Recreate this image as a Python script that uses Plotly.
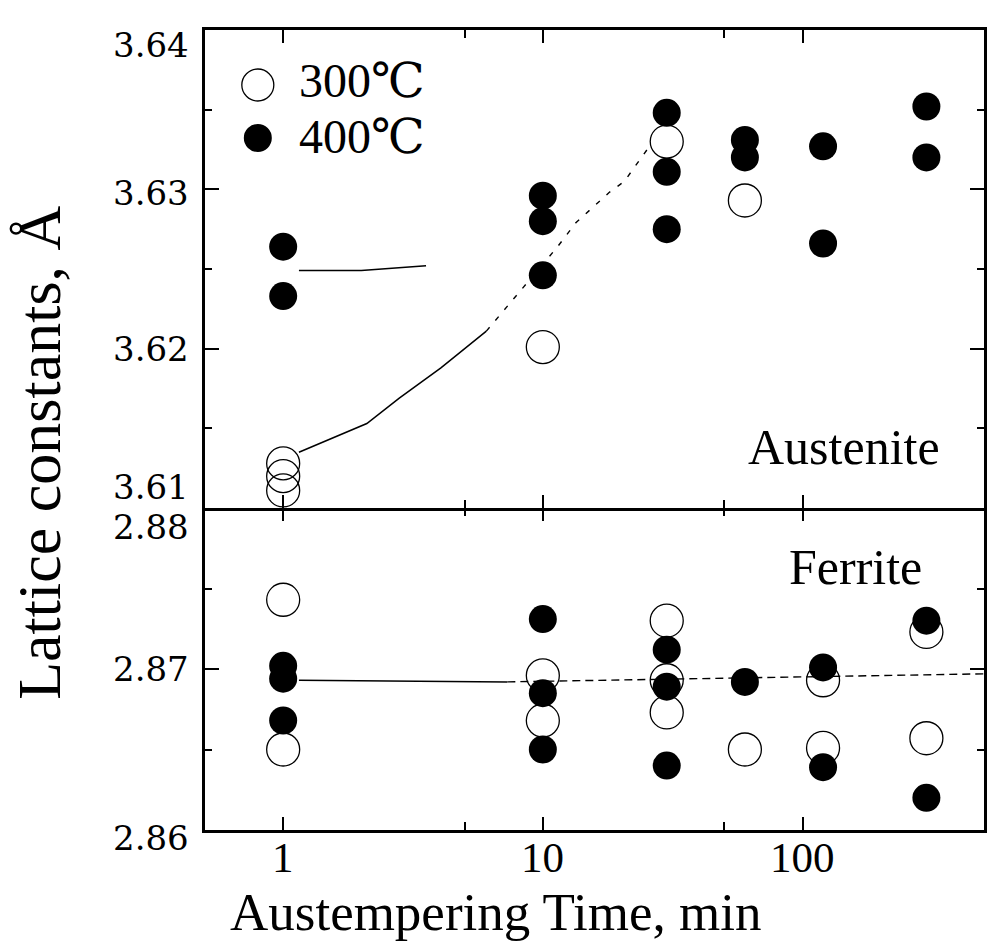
import math
import plotly.graph_objects as go

# ---- Austenite (upper panel) ----
aus_time_400 = [1, 1, 10, 10, 10, 30, 30, 30, 60, 60, 120, 120, 300, 300]
aus_a_400 = [3.6264, 3.6233, 3.6296, 3.6280, 3.6246, 3.6348, 3.6311, 3.6275,
             3.6331, 3.6320, 3.6327, 3.6266, 3.6352, 3.6320]
aus_time_300 = [1, 1, 1, 10, 30, 60]
aus_a_300 = [3.6128, 3.6120, 3.6111, 3.6201, 3.6330, 3.6293]

# trend curves drawn through the austenite data
aus_fit300_time_a = [1.15, 2.1, 2.8, 4.05, 6.06]
aus_fit300_a_a = [3.6135, 3.6153, 3.6169, 3.6188, 3.6211]
aus_fit300_time_b = [6.06, 11.4, 13.4, 18, 20.6, 26]
aus_fit300_a_b = [3.6211, 3.6264, 3.6279, 3.6298, 3.6305, 3.6328]
aus_fit400_time = [1.15, 2.0, 3.55]
aus_fit400_a = [3.6249, 3.6249, 3.6252]

# ---- Ferrite (lower panel) ----
fer_time_400 = [1, 1, 1, 10, 10, 10, 30, 30, 30, 60, 120, 120, 300, 300]
fer_a_400 = [2.8702, 2.8694, 2.8668, 2.8731, 2.8685, 2.8650, 2.8712, 2.8689,
             2.8640, 2.8692, 2.8701, 2.8639, 2.8730, 2.8620]
fer_time_300 = [1, 1, 10, 10, 30, 30, 30, 60, 120, 120, 300, 300]
fer_a_300 = [2.8743, 2.8650, 2.8696, 2.8668, 2.8730, 2.8693, 2.8673, 2.8650,
             2.8693, 2.8651, 2.8723, 2.8657]

fer_fit_time_a = [1.15, 7.3]
fer_fit_a_a = [2.8693, 2.8692]
fer_fit_time_b = [7.3, 500]
fer_fit_a_b = [2.8692, 2.8697]

# ---- axis ticks and labels ----
x_ticks = [1, 10, 100]
x_minor = [5, 50]
aus_ticks = [3.61, 3.62, 3.63, 3.64]
aus_minor = [3.615, 3.625, 3.635]
fer_ticks = [2.86, 2.87, 2.88]
fer_minor = [2.865, 2.875]

SERIF = "Liberation Serif, DejaVu Serif, Noto Sans CJK JP"
NUM = "DejaVu Serif"
BLACK = "#000000"

fig = go.Figure()

line_solid = dict(color=BLACK, width=1.5)
line_dash = dict(color=BLACK, width=1.4, dash="5px,9px")

# austenite curves
fig.add_trace(go.Scatter(x=aus_fit300_time_a, y=aus_fit300_a_a, mode="lines",
                         line=line_solid, xaxis="x2", yaxis="y2", showlegend=False))
fig.add_trace(go.Scatter(x=aus_fit300_time_b, y=aus_fit300_a_b, mode="lines",
                         line=line_dash, xaxis="x2", yaxis="y2", showlegend=False))
fig.add_trace(go.Scatter(x=aus_fit400_time, y=aus_fit400_a, mode="lines",
                         line=line_solid, xaxis="x2", yaxis="y2", showlegend=False))
# ferrite line
fig.add_trace(go.Scatter(x=fer_fit_time_a, y=fer_fit_a_a, mode="lines",
                         line=line_solid, xaxis="x", yaxis="y", showlegend=False))
fig.add_trace(go.Scatter(x=fer_fit_time_b, y=fer_fit_a_b, mode="lines",
                         line=dict(color=BLACK, width=1.4, dash="8px,5px"),
                         xaxis="x", yaxis="y", showlegend=False))

open_marker = dict(symbol="circle-open", size=33, color=BLACK, line=dict(color=BLACK, width=1.3))
filled_marker = dict(symbol="circle", size=28, color=BLACK, line=dict(width=0))

# 300 C (open) under 400 C (filled)
fig.add_trace(go.Scatter(x=aus_time_300, y=aus_a_300, mode="markers", marker=open_marker,
                         xaxis="x2", yaxis="y2", showlegend=False, cliponaxis=False))
fig.add_trace(go.Scatter(x=fer_time_300, y=fer_a_300, mode="markers", marker=open_marker,
                         xaxis="x", yaxis="y", showlegend=False, cliponaxis=False))
fig.add_trace(go.Scatter(x=aus_time_400, y=aus_a_400, mode="markers", marker=filled_marker,
                         xaxis="x2", yaxis="y2", showlegend=False, cliponaxis=False))
fig.add_trace(go.Scatter(x=fer_time_400, y=fer_a_400, mode="markers", marker=filled_marker,
                         xaxis="x", yaxis="y", showlegend=False, cliponaxis=False))
# empty trace so the tick-only axis along the panel boundary is drawn
fig.add_trace(go.Scatter(x=[], y=[], xaxis="x3", yaxis="y", showlegend=False))

SPLIT = 0.4025
x_range = [math.log10(0.5), math.log10(500)]

axis_common = dict(showgrid=False, zeroline=False, showline=True, linecolor=BLACK,
                   linewidth=2.5, mirror="ticks", ticks="inside", tickcolor=BLACK,
                   tickwidth=1.8)
x_minor_style = dict(tickvals=x_minor, ticks="inside", ticklen=8,
                     tickcolor=BLACK, tickwidth=1.5)

fig.update_layout(
    width=991, height=946,
    margin=dict(l=205, r=4, t=30, b=116),
    paper_bgcolor="white", plot_bgcolor="white",
    showlegend=False,
    xaxis=dict(axis_common, type="log", range=x_range, anchor="y", mirror=False,
               tickvals=x_ticks, showticklabels=False, ticklen=13,
               minor=x_minor_style),
    xaxis2=dict(axis_common, type="log", range=x_range, anchor="y2", matches="x",
                tickvals=x_ticks, showticklabels=False, ticklen=13,
                minor=x_minor_style),
    # ticks hanging down from the panel boundary into the ferrite panel
    xaxis3=dict(type="log", range=x_range, anchor="y", overlaying="x", side="top",
                matches="x", showline=False, showgrid=False, zeroline=False,
                ticks="inside", tickvals=x_ticks, ticklen=13, tickcolor=BLACK,
                tickwidth=1.8, showticklabels=False, minor=x_minor_style),
    yaxis=dict(axis_common, domain=[0, SPLIT], range=[2.86, 2.88], anchor="x",
               tickvals=fer_ticks, showticklabels=False, ticklen=14,
               minor=dict(tickvals=fer_minor, ticks="inside", ticklen=7,
                          tickcolor=BLACK, tickwidth=1.5)),
    yaxis2=dict(axis_common, domain=[SPLIT, 1], range=[3.61, 3.64], anchor="x2",
                tickvals=aus_ticks, showticklabels=False, ticklen=14,
                minor=dict(tickvals=aus_minor, ticks="inside", ticklen=7,
                           tickcolor=BLACK, tickwidth=1.5)),
)

annotations = []

# x tick labels
for v in x_ticks:
    annotations.append(dict(x=math.log10(v), xref="x", y=0, yref="paper",
                            xanchor="center", yanchor="middle", yshift=-27,
                            text=str(v), showarrow=False,
                            font=dict(family=SERIF, size=43, color=BLACK)))

# y tick labels; the ones at the panel edges are nudged apart
label_nudge = {3.64: -15, 3.63: -4, 3.62: 0, 3.61: 21, 2.88: -19, 2.87: 0, 2.86: -8}
for ref, vals in (("y2", aus_ticks), ("y", fer_ticks)):
    for v in vals:
        annotations.append(dict(
            x=0, xref="paper", xanchor="right", xshift=-14,
            y=v, yref=ref, yanchor="middle", yshift=label_nudge[v],
            text=f"{v:.2f}", showarrow=False,
            font=dict(family=NUM, size=34, color=BLACK)))

# axis titles
annotations.append(dict(x=0.3734, xref="paper", y=-0.1025, yref="paper",
                        xanchor="center", yanchor="middle", showarrow=False,
                        text="Austempering Time, min",
                        font=dict(family=SERIF, size=53, color=BLACK)))
annotations.append(dict(x=-0.2123, xref="paper", y=0.471, yref="paper",
                        xanchor="center", yanchor="middle", showarrow=False,
                        textangle=-90, text="Lattice constants, Å",
                        font=dict(family=SERIF, size=62, color=BLACK)))

# panel names
annotations.append(dict(x=0.946, xref="paper", y=0.479, yref="paper",
                        xanchor="right", yanchor="middle", showarrow=False,
                        text="Austenite", font=dict(family=SERIF, size=50, color=BLACK)))
annotations.append(dict(x=0.923, xref="paper", y=0.329, yref="paper",
                        xanchor="right", yanchor="middle", showarrow=False,
                        text="Ferrite", font=dict(family=SERIF, size=50, color=BLACK)))

# key
key_items = [("300℃", "open", 0.93125, 0.9375), ("400℃", "filled", 0.865, 0.8663)]
shapes = []
for label, style, ym, yt in key_items:
    r = 16 if style == "open" else 14
    shapes.append(dict(type="circle", xref="paper", yref="paper",
                       xsizemode="pixel", ysizemode="pixel",
                       xanchor=0.0678, yanchor=ym, x0=-r, x1=r, y0=-r, y1=r,
                       line=dict(color=BLACK, width=1.3 if style == "open" else 0),
                       fillcolor="rgba(0,0,0,0)" if style == "open" else BLACK))
    annotations.append(dict(x=0.1176, xref="paper", y=yt, yref="paper",
                            xanchor="left", yanchor="middle", showarrow=False,
                            text=label, font=dict(family=SERIF, size=48, color=BLACK)))

fig.update_layout(annotations=annotations, shapes=shapes)

fig.write_html("out.html")
